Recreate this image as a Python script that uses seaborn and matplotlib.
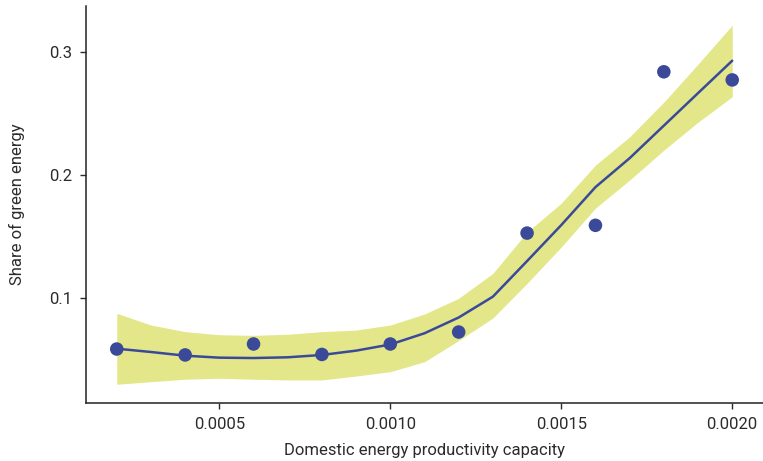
import numpy as np
import pandas as pd
import matplotlib
matplotlib.use("Agg")
import matplotlib.pyplot as plt
import seaborn as sns

capacity = [0.0002, 0.0004, 0.0006, 0.0008, 0.0010, 0.0012, 0.0014, 0.0016, 0.0018, 0.0020]
green_share = [0.0586, 0.0538, 0.0627, 0.0542, 0.0627, 0.0724, 0.1527, 0.1590, 0.2836, 0.2770]

# Smoothed trend and its confidence band
smooth_x = [0.0002, 0.0003, 0.0004, 0.0005, 0.0006, 0.0007, 0.0008, 0.0009, 0.0010, 0.0011,
            0.0012, 0.0013, 0.0014, 0.0015, 0.0016, 0.0017, 0.0018, 0.0019, 0.0020]
smooth_fit = [0.0589, 0.0562, 0.0532, 0.0516, 0.0513, 0.0519, 0.0538, 0.0573, 0.0623, 0.0714,
              0.0842, 0.1011, 0.1300, 0.1592, 0.1900, 0.2135, 0.2399, 0.2663, 0.2926]
smooth_upper = [0.0876, 0.0781, 0.0727, 0.0702, 0.0697, 0.0706, 0.0727, 0.0740, 0.0781, 0.0870,
                0.0998, 0.1200, 0.1535, 0.1770, 0.2079, 0.2308, 0.2590, 0.2898, 0.3214]
smooth_lower = [0.0300, 0.0321, 0.0341, 0.0349, 0.0341, 0.0335, 0.0335, 0.0367, 0.0402, 0.0483,
                0.0655, 0.0838, 0.1119, 0.1414, 0.1730, 0.1957, 0.2200, 0.2427, 0.2633]

x_ticks = [0.0005, 0.0010, 0.0015, 0.0020]
x_tick_labels = ["0.0005", "0.0010", "0.0015", "0.0020"]
y_ticks = [0.1, 0.2, 0.3]
y_tick_labels = ["0.1", "0.2", "0.3"]

points = pd.DataFrame({"capacity": capacity, "share": green_share})
smooth = pd.DataFrame({"capacity": smooth_x, "fit": smooth_fit,
                       "lo": smooth_lower, "hi": smooth_upper})

sns.set_theme(style="ticks")
plt.rcParams["font.family"] = ["Roboto", "DejaVu Sans"]

fig = plt.figure(figsize=(7.63, 4.61), dpi=100)
ax = fig.add_axes([0.1127, 0.1258, 0.8873, 0.8612])

blue = "#3b4a98"
band = "#e3e78a"
text_col = "#2b2b2b"

ax.fill_between(smooth["capacity"], smooth["lo"], smooth["hi"], color=band, lw=0, zorder=1)
sns.lineplot(data=smooth, x="capacity", y="fit", color=blue, lw=1.8, ax=ax, zorder=2)
sns.scatterplot(data=points, x="capacity", y="share", color=blue, s=95,
                edgecolor="none", ax=ax, zorder=3)

ax.set_xlim(0.00011, 0.00209)
ax.set_ylim(0.0148, 0.337)
ax.set_xticks(x_ticks)
ax.set_xticklabels(x_tick_labels)
ax.set_yticks(y_ticks)
ax.set_yticklabels(y_tick_labels)

ax.set_xlabel("Domestic energy productivity capacity", fontsize=12, color=text_col, labelpad=8)
ax.set_ylabel("Share of green energy", fontsize=12, color=text_col, labelpad=17)
ax.tick_params(axis="both", labelsize=12, colors=text_col, length=4, width=1, pad=6)

for s in ["top", "right"]:
    ax.spines[s].set_visible(False)
for s in ["left", "bottom"]:
    ax.spines[s].set_color("#222222")
    ax.spines[s].set_linewidth(1.1)

fig.savefig("out.png", dpi=100)
